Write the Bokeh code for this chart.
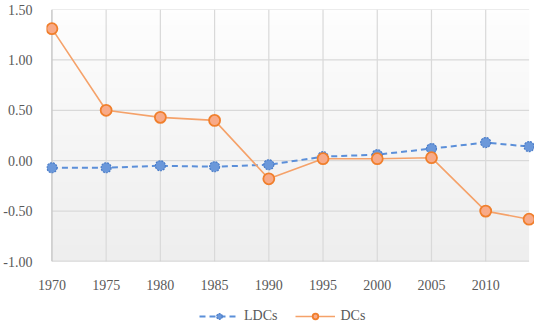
import numpy as np
from bokeh.plotting import figure
from bokeh.layouts import column
from bokeh.models import FixedTicker, NumeralTickFormatter, Legend, LegendItem
from bokeh.embed import file_html
from bokeh.resources import INLINE

years = [1970, 1975, 1980, 1985, 1990, 1995, 2000, 2005, 2010, 2014]
ldcs = [-0.07, -0.07, -0.05, -0.06, -0.04, 0.04, 0.06, 0.12, 0.18, 0.14]
dcs = [1.31, 0.50, 0.43, 0.40, -0.18, 0.02, 0.02, 0.03, -0.50, -0.58]
x_ticks = [1970, 1975, 1980, 1985, 1990, 1995, 2000, 2005, 2010]
y_ticks = [-1.0, -0.5, 0.0, 0.5, 1.0, 1.5]
x_start, x_end = 1970, 2014
y_start, y_end = -1.0, 1.5
pad = 0.5

FONT = "Liberation Serif"
TXT = "#595959"
GRID = "#d9d9d9"
AXIS = "#c8c8c8"

LDC_STYLE = dict(line=dict(line_color="#5b8fd9", line_width=2, line_dash="6 4"),
                 marker=dict(size=10, marker="circle", fill_color="#6b98da",
                             line_color="#4a7cc8", line_width=1.2, line_dash="2 1"))
DC_STYLE = dict(line=dict(line_color="#f5a26a", line_width=1.6),
                marker=dict(size=11, marker="circle", fill_color="#f8aa88",
                            line_color="#f07f2c", line_width=1.8))

p = figure(width=534, height=292, output_backend="svg", toolbar_location=None,
           x_range=(x_start - pad, x_end + pad), y_range=(y_start, y_end))
p.min_border_left = 0
p.min_border_right = 0
p.min_border_top = 9
p.min_border_bottom = 0
p.outline_line_color = None
p.background_fill_color = "#ffffff"
p.border_fill_color = "#ffffff"

# subtle vertical gradient in plot area
n = 64
shade = np.linspace(0xee, 0xfe, n).astype(np.uint32)
img = np.empty((n, 1), dtype=np.uint32)
view = img.view(dtype=np.uint8).reshape((n, 1, 4))
view[:, 0, 0] = shade
view[:, 0, 1] = shade
view[:, 0, 2] = shade
view[:, 0, 3] = 255
p.image_rgba(image=[img], x=x_start, y=y_start, dw=x_end - x_start, dh=y_end - y_start, level="image")

for ax in (p.xaxis[0], p.yaxis[0]):
    ax.major_tick_line_color = None
    ax.minor_tick_line_color = None
    ax.major_label_text_font = FONT
    ax.major_label_text_font_size = "14px"
    ax.major_label_text_color = TXT
    ax.axis_line_color = None
p.yaxis.major_label_standoff = 8
p.xaxis.major_label_standoff = 12

p.xaxis.ticker = FixedTicker(ticks=x_ticks)
p.yaxis.ticker = FixedTicker(ticks=y_ticks)
p.yaxis.formatter = NumeralTickFormatter(format="0.00")
p.xgrid.visible = False
p.ygrid.visible = False

# grid lines limited to the data span
p.segment(x0=x_ticks[1:], x1=x_ticks[1:], y0=y_start, y1=y_end, line_color=GRID, line_width=1.2, level="underlay")
p.segment(x0=x_start, x1=x_end, y0=y_ticks[1:], y1=y_ticks[1:], line_color=GRID, line_width=1.2, level="underlay")
# axis lines
p.segment(x0=[x_start], x1=[x_start], y0=[y_start], y1=[y_end], line_color=AXIS, line_width=1.5, level="underlay")
p.segment(x0=[x_start], x1=[x_end], y0=[y_start], y1=[y_start], line_color=AXIS, line_width=1.5, level="underlay")

p.line(years, ldcs, **LDC_STYLE["line"])
p.scatter(years, ldcs, **LDC_STYLE["marker"])
p.line(years, dcs, **DC_STYLE["line"])
p.scatter(years, dcs, **DC_STYLE["marker"])

# legend strip below the chart (its sample glyphs sit outside the visible range)
q = figure(width=534, height=36, output_backend="svg", toolbar_location=None,
           x_range=(0, 1), y_range=(0, 1))
q.min_border_left = q.min_border_right = q.min_border_top = q.min_border_bottom = 0
q.axis.visible = False
q.grid.visible = False
q.outline_line_color = None
q.background_fill_color = "#ffffff"
q.border_fill_color = "#ffffff"
hidden_x, hidden_y = [5, 6], [5, 6]
e1 = q.line(hidden_x, hidden_y, **LDC_STYLE["line"])
f1 = q.scatter(hidden_x, hidden_y, **LDC_STYLE["marker"])
e2 = q.line(hidden_x, hidden_y, **DC_STYLE["line"])
f2 = q.scatter(hidden_x, hidden_y, **DC_STYLE["marker"])
legend = Legend(items=[LegendItem(label="LDCs", renderers=[e1, f1]),
                       LegendItem(label="DCs", renderers=[e2, f2])],
                orientation="horizontal", location=(153, 4),
                label_text_font=FONT, label_text_font_size="14px",
                label_text_color=TXT, glyph_width=40, glyph_height=14,
                label_height=14, spacing=18, padding=0, margin=0,
                border_line_color=None, background_fill_alpha=0)
q.add_layout(legend, "center")

open("out.html", "w").write(file_html(column(p, q, spacing=0), INLINE))
